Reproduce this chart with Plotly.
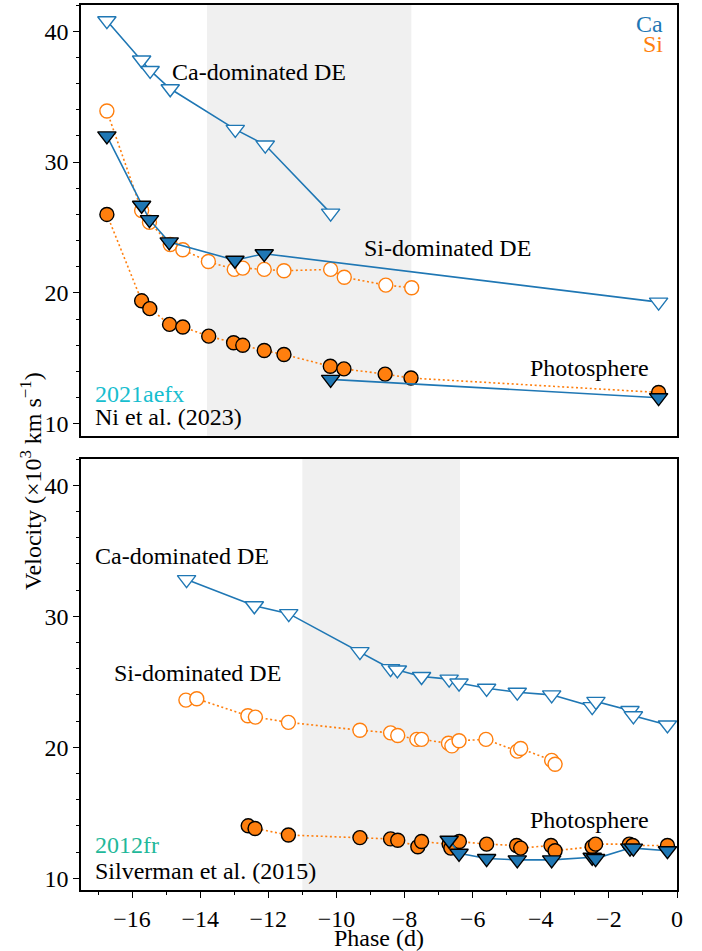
import plotly.graph_objects as go

# ---------------- data: SN 2021aefx (top panel) ----------------
top_ca_hv_x = [-16.74, -15.72, -15.47, -14.88, -12.97, -12.09, -10.17]
top_ca_hv_y = [40.8, 37.8, 37.0, 35.6, 32.5, 31.3, 26.1]

top_ca_de_x = [-16.74, -15.72, -15.49, -14.91, -12.98, -12.12, -0.54]
top_ca_de_y = [32.0, 26.7, 25.6, 23.9, 22.5, 23.0, 19.3]
top_ca_de_filled = [True, True, True, True, True, True, False]

top_ca_ph_x = [-10.17, -0.54]
top_ca_ph_y = [13.4, 12.0]

top_si_de_x = [-16.74, -15.72, -15.49, -14.88, -14.51, -13.76, -13.0, -12.75,
               -12.12, -11.54, -10.17, -9.77, -8.55, -7.79]
top_si_de_y = [33.9, 26.3, 25.4, 23.7, 23.3, 22.4, 21.8, 21.9,
               21.8, 21.7, 21.8, 21.2, 20.6, 20.4]

top_si_ph_x = [-16.74, -15.72, -15.48, -14.90, -14.51, -13.75, -13.02, -12.75,
               -12.12, -11.54, -10.18, -9.78, -8.57, -7.81, -0.54]
top_si_ph_y = [26.0, 19.4, 18.8, 17.6, 17.4, 16.7, 16.2, 16.0,
               15.6, 15.3, 14.4, 14.2, 13.8, 13.5, 12.4]

top_shade = [-13.8, -7.8]

# ---------------- data: SN 2012fr (bottom panel) ----------------
bot_ca_de_x = [-14.40, -12.41, -11.40, -9.31, -8.41, -8.21, -7.50, -6.69, -6.40,
               -5.59, -4.69, -3.68, -2.49, -2.38, -1.38, -1.28, -0.28]
bot_ca_de_y = [32.8, 30.8, 30.2, 27.3, 26.0, 25.9, 25.4, 25.2, 24.9,
               24.5, 24.2, 24.0, 23.1, 23.5, 22.8, 22.4, 21.7]

bot_si_de_x = [-14.42, -14.10, -12.60, -12.38, -11.41, -9.31, -8.41, -8.20, -7.64,
               -7.50, -6.71, -6.61, -6.40, -5.61, -4.69, -4.59, -3.68, -3.58]
bot_si_de_y = [23.6, 23.7, 22.4, 22.3, 21.9, 21.3, 21.1, 20.9, 20.6,
               20.6, 20.3, 20.1, 20.5, 20.6, 19.7, 19.9, 19.0, 18.7]

bot_si_ph_x = [-12.59, -12.39, -11.41, -9.31, -8.41, -8.20, -7.61, -7.50, -6.69,
               -6.64, -6.39, -5.59, -4.71, -4.59, -3.70, -3.58, -2.49, -2.39,
               -1.40, -1.30, -0.28]
bot_si_ph_y = [14.0, 13.8, 13.3, 13.1, 13.0, 12.9, 12.4, 12.8, 12.6,
               12.3, 12.8, 12.6, 12.5, 12.3, 12.5, 12.1, 12.4, 12.6,
               12.6, 12.5, 12.5]

bot_ca_ph_x = [-6.69, -6.40, -5.59, -4.69, -3.68, -2.49, -2.39, -1.38, -1.28, -0.28]
bot_ca_ph_y = [12.9, 11.9, 11.5, 11.4, 11.4, 11.6, 11.5, 12.3, 12.3, 12.1]

bot_shade = [-11.0, -6.37]

x_range = [-17.5, 0]
y_range = [9.1, 42.0]
y_ticks = [10, 20, 30, 40]
x_ticks = [-16, -14, -12, -10, -8, -6, -4, -2, 0]

# ---------------- styles ----------------
BLUE = "#1f77b4"
ORANGE = "#ff7f0e"
FONT = "Liberation Serif"
FS = 24
TRI = 16
CIRC = 14
DOT = "2px,2.6px"

fig = go.Figure()


def si_trace(x, y, filled, xa, ya):
    return go.Scatter(
        x=x, y=y, mode="lines+markers", xaxis=xa, yaxis=ya, showlegend=False,
        line=dict(color=ORANGE, width=1.6, dash=DOT),
        marker=dict(symbol="circle", size=CIRC,
                    color=ORANGE if filled else "white",
                    line=dict(color="black" if filled else ORANGE, width=1.4)))


def ca_trace(x, y, filled, xa, ya):
    if isinstance(filled, list):
        mcol = [BLUE if f else "white" for f in filled]
        lcol = ["black" if f else BLUE for f in filled]
    else:
        mcol = BLUE if filled else "white"
        lcol = "black" if filled else BLUE
    return go.Scatter(
        x=x, y=y, mode="lines+markers", xaxis=xa, yaxis=ya, showlegend=False,
        line=dict(color=BLUE, width=1.6),
        marker=dict(symbol="triangle-down", size=TRI, color=mcol,
                    line=dict(color=lcol, width=1.4)))


# top panel
fig.add_trace(si_trace(top_si_de_x, top_si_de_y, False, "x", "y"))
fig.add_trace(si_trace(top_si_ph_x, top_si_ph_y, True, "x", "y"))
fig.add_trace(ca_trace(top_ca_hv_x, top_ca_hv_y, False, "x", "y"))
fig.add_trace(ca_trace(top_ca_de_x, top_ca_de_y, top_ca_de_filled, "x", "y"))
fig.add_trace(ca_trace(top_ca_ph_x, top_ca_ph_y, True, "x", "y"))

# bottom panel
fig.add_trace(si_trace(bot_si_de_x, bot_si_de_y, False, "x2", "y2"))
fig.add_trace(si_trace(bot_si_ph_x, bot_si_ph_y, True, "x2", "y2"))
fig.add_trace(ca_trace(bot_ca_de_x, bot_ca_de_y, False, "x2", "y2"))
fig.add_trace(ca_trace(bot_ca_ph_x, bot_ca_ph_y, True, "x2", "y2"))

# shaded windows
fig.add_shape(type="rect", xref="x", yref="y domain", x0=top_shade[0], x1=top_shade[1],
              y0=0, y1=1, fillcolor="#f0f0f0", line=dict(width=0), layer="below")
fig.add_shape(type="rect", xref="x2", yref="y2 domain", x0=bot_shade[0], x1=bot_shade[1],
              y0=0, y1=1, fillcolor="#f0f0f0", line=dict(width=0), layer="below")

axis_common = dict(showline=True, mirror=True, linecolor="black", linewidth=1.6,
                   showgrid=False, zeroline=False,
                   tickfont=dict(family=FONT, size=FS, color="black"))

fig.update_layout(
    width=702, height=951,
    margin=dict(l=81, r=25, t=3, b=54),
    paper_bgcolor="white", plot_bgcolor="white",
    font=dict(family=FONT, size=FS, color="black"),
    xaxis=dict(domain=[0, 1], range=x_range, anchor="y", showticklabels=False,
               ticks="", **axis_common),
    yaxis=dict(domain=[0.5134, 1], range=y_range, anchor="x", tickvals=y_ticks,
               ticks="outside", ticklen=6, tickwidth=1.2, tickcolor="black",
               minor=dict(dtick=2, tick0=0, ticks="outside", ticklen=3.5, tickcolor="black"),
               **axis_common),
    xaxis2=dict(domain=[0, 1], range=x_range, anchor="y2", tickvals=x_ticks,
                ticks="outside", ticklen=6, tickwidth=1.2, tickcolor="black",
                minor=dict(dtick=1, tick0=0, ticks="outside", ticklen=3.5, tickcolor="black"),
                title=dict(text="Phase (d)", font=dict(family=FONT, size=FS), standoff=0),
                **axis_common),
    yaxis2=dict(domain=[0, 0.4869], range=y_range, anchor="x2", tickvals=y_ticks,
                ticks="outside", ticklen=6, tickwidth=1.2, tickcolor="black",
                minor=dict(dtick=2, tick0=0, ticks="outside", ticklen=3.5, tickcolor="black"),
                **axis_common),
)

ann = []


def txt(text, x, y, xref, yref, color="black", xanchor="left", yanchor="middle", angle=0):
    ann.append(dict(text=text, x=x, y=y, xref=xref, yref=yref, showarrow=False,
                    xanchor=xanchor, yanchor=yanchor, textangle=angle,
                    font=dict(family=FONT, size=FS, color=color)))


# top panel labels
txt("Ca-dominated DE", -14.89, 36.9, "x", "y")
txt("Si-dominated DE", -9.25, 23.4, "x", "y")
txt("Photosphere", -4.37, 14.3, "x", "y")
txt("Ca", 0.98, 0.956, "x domain", "y domain", color=BLUE, xanchor="right")
txt("Si", 0.98, 0.910, "x domain", "y domain", color=ORANGE, xanchor="right")
txt("2021aefx", 0.02, 0.096, "x domain", "y domain", color="#17becf")
txt("Ni et al. (2023)", 0.02, 0.044, "x domain", "y domain")

# bottom panel labels
txt("Ca-dominated DE", -17.15, 34.6, "x2", "y2")
txt("Si-dominated DE", -16.59, 25.7, "x2", "y2")
txt("Photosphere", -4.37, 14.45, "x2", "y2")
txt("2012fr", 0.02, 0.104, "x2 domain", "y2 domain", color="#1fb89a")
txt("Silverman et al. (2015)", 0.02, 0.044, "x2 domain", "y2 domain")

# shared y label
txt("Velocity (×10<sup>3</sup> km s<sup>−1</sup>)", -0.084, 0.462, "paper", "paper",
    xanchor="center", angle=-90)

fig.update_layout(annotations=ann)

fig.write_html("out.html")
